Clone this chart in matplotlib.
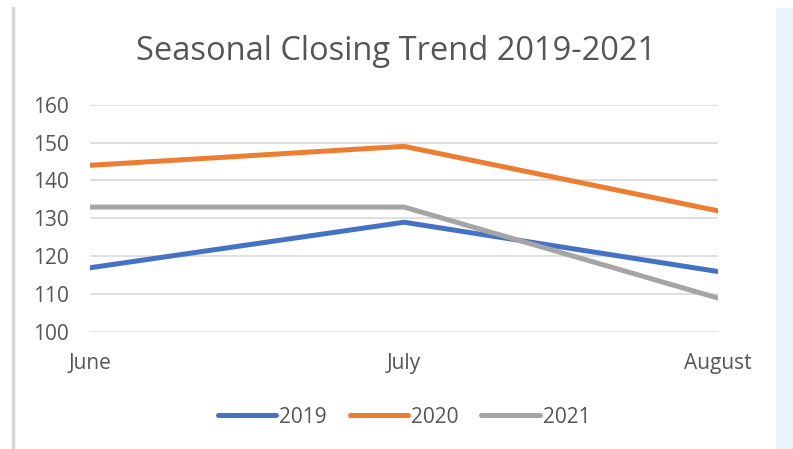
import matplotlib.pyplot as plt
from matplotlib.lines import Line2D

plt.rcParams['font.family'] = ['Open Sans', 'DejaVu Sans']

months = ['June', 'July', 'August']
y2019 = [117, 129, 116]
y2020 = [144, 149, 132]
y2021 = [133, 133, 109]
yticks = [100, 110, 120, 130, 140, 150, 160]

fig = plt.figure(figsize=(7.93, 4.49), dpi=100)
fig.patch.set_facecolor('white')

# frame bits at the edges of the screenshot
fig.add_artist(Line2D([0.0164, 0.0164], [0, 0.982], color='#d9d6d4', lw=2.5))
fig.patches.append(plt.Rectangle((0.978, 0), 0.022, 0.982, transform=fig.transFigure,
                                 color='#eaf2fc', zorder=0))

ax = fig.add_axes([0.1135, 0.26, 0.792, 0.507])
x = range(len(months))
ax.plot(x, y2019, color='#4472C4', lw=3.6, label='2019', solid_capstyle='round')
ax.plot(x, y2020, color='#ED7D31', lw=3.6, label='2020', solid_capstyle='round')
ax.plot(x, y2021, color='#A5A5A5', lw=3.6, label='2021', solid_capstyle='round')

ax.set_xlim(0, 2)
ax.set_ylim(100, 160)
ax.set_yticks(yticks)
ax.set_xticks(list(x))
ax.set_xticklabels(months)
ax.grid(axis='y', color='#d9d9d9', lw=1.2)
ax.set_axisbelow(True)
for s in ax.spines.values():
    s.set_visible(False)
ax.tick_params(length=0, labelsize=15, colors='#555555')
ax.tick_params(axis='y', pad=15)
ax.tick_params(axis='x', pad=15)

fig.text(0.5, 0.885, 'Seasonal Closing Trend 2019-2021', ha='center', va='center',
         fontsize=23.5, color='#555555')

ax.legend(loc='upper center', bbox_to_anchor=(0.5, -0.245), ncol=3, frameon=False,
          fontsize=15, labelcolor='#555555', handlelength=2.8, handletextpad=0.15,
          columnspacing=1.1)

fig.savefig('out.png', dpi=100)
